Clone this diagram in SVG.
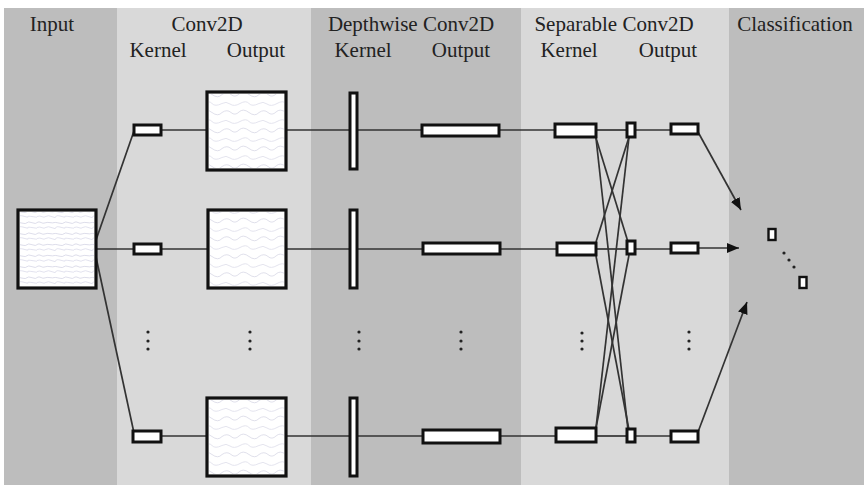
<svg xmlns="http://www.w3.org/2000/svg" width="864" height="485" viewBox="0 0 864 485">
  <defs>
    <style>
      .lbl { font-family: "Liberation Serif", "Times New Roman", serif; font-size: 21px; fill: #222; text-anchor: middle; }
      .dark { fill: #bdbdbd; }
      .light { fill: #d9d9d9; }
      .box { fill: #ffffff; stroke: #111; stroke-width: 3; }
      .sq { stroke-width: 3.2; }
      .wire { stroke: #333; stroke-width: 1.7; fill: none; }
      .dot { fill: #222; }
    </style>
    <!-- faint signal traces inside the input map -->
    <pattern id="eeg" width="37" height="11" patternUnits="userSpaceOnUse">
      <path d="M0 2.5 q2 -1.3 4 0 t4 0.4 t5 -0.3 t4 0 t5 0.5 t5 -0.4 t5 0 t5 0" fill="none" stroke="#c6c6dc" stroke-width="0.6"/>
      <path d="M0 7.5 q3 -1 5 0.2 t4 -0.3 t6 0.3 t4 0 t5 -0.4 t4 0.4 t5 0 t4 0" fill="none" stroke="#cfcfe2" stroke-width="0.6"/>
    </pattern>
    <!-- wavier traces inside the convolution outputs -->
    <pattern id="wave" width="37" height="18" patternUnits="userSpaceOnUse">
      <path d="M0 4.5 q5 -3.5 9 0 t8 -0.5 t10 0.5 t10 0" fill="none" stroke="#d2d2e2" stroke-width="0.7"/>
      <path d="M0 13.5 q4 -2.5 8 0.5 t10 -0.5 t9 0 t10 0" fill="none" stroke="#d8d8e6" stroke-width="0.7"/>
    </pattern>
    <marker id="arr" viewBox="0 0 12 10" refX="12" refY="5" markerWidth="12" markerHeight="10" markerUnits="userSpaceOnUse" orient="auto">
      <path d="M0 0 L12 5 L0 10 Z" fill="#111"/>
    </marker>
  </defs>

  <rect width="864" height="485" fill="#ffffff"/>

  <!-- column bands -->
  <g id="bands">
    <rect class="dark" x="4" y="8" width="113" height="477"/>
    <rect class="light" x="117" y="8" width="194" height="477"/>
    <rect class="dark" x="311" y="8" width="210" height="477"/>
    <rect class="light" x="521" y="8" width="208" height="477"/>
    <rect class="dark" x="729" y="8" width="135" height="477"/>
  </g>

  <!-- headings -->
  <g id="headings">
    <text class="lbl" x="52" y="31">Input</text>
    <text class="lbl" x="207" y="31">Conv2D</text>
    <text class="lbl" x="158" y="57">Kernel</text>
    <text class="lbl" x="256" y="57">Output</text>
    <text class="lbl" x="411" y="31">Depthwise Conv2D</text>
    <text class="lbl" x="363" y="57">Kernel</text>
    <text class="lbl" x="461" y="57">Output</text>
    <text class="lbl" x="614" y="31">Separable Conv2D</text>
    <text class="lbl" x="569" y="57">Kernel</text>
    <text class="lbl" x="668" y="57">Output</text>
    <text class="lbl" x="795" y="31">Classification</text>
  </g>

  <!-- connectors -->
  <g id="connectors">
    <!-- input fan-out -->
    <line class="wire" x1="96" y1="240" x2="134" y2="131"/>
    <line class="wire" x1="96" y1="249" x2="134" y2="249"/>
    <line class="wire" x1="96" y1="257" x2="134" y2="433"/>
    <!-- row 1 -->
    <polyline class="wire" points="161,130 207,130"/>
    <polyline class="wire" points="286,130 422,130"/>
    <polyline class="wire" points="500,130 555,130"/>
    <polyline class="wire" points="596,130 627,130"/>
    <polyline class="wire" points="636,130 671,130"/>
    <!-- row 2 -->
    <polyline class="wire" points="161,249 207,249"/>
    <polyline class="wire" points="286,249 422,249"/>
    <polyline class="wire" points="500,249 556,249"/>
    <polyline class="wire" points="596,249 627,249"/>
    <polyline class="wire" points="636,249 671,249"/>
    <!-- row n -->
    <polyline class="wire" points="161,436 207,436"/>
    <polyline class="wire" points="286,436 422,436"/>
    <polyline class="wire" points="500,436 555,436"/>
    <polyline class="wire" points="596,436 627,436"/>
    <polyline class="wire" points="636,436 671,436"/>
    <!-- pointwise mixing -->
    <line class="wire" x1="596" y1="138" x2="628" y2="242"/>
    <line class="wire" x1="596" y1="138" x2="628" y2="430"/>
    <line class="wire" x1="596" y1="242" x2="629" y2="137"/>
    <line class="wire" x1="596" y1="256" x2="629" y2="430"/>
    <line class="wire" x1="596" y1="428" x2="629" y2="137"/>
    <line class="wire" x1="596" y1="428" x2="629" y2="255"/>
    <!-- to classifier -->
    <line class="wire" x1="698" y1="132" x2="741" y2="210" marker-end="url(#arr)"/>
    <line class="wire" x1="698" y1="248" x2="739" y2="248" marker-end="url(#arr)"/>
    <line class="wire" x1="698" y1="432" x2="747" y2="302" marker-end="url(#arr)"/>
  </g>

  <g id="input">
    <rect class="box sq" x="18" y="210" width="78" height="78"/>
    <rect x="20" y="212" width="74" height="74" fill="url(#eeg)"/>
  </g>

  <g id="conv-kernel-1"><rect class="box" x="134" y="125" width="27" height="10"/></g>
  <g id="conv-kernel-2"><rect class="box" x="134" y="244" width="27" height="10"/></g>
  <g id="conv-kernel-n"><rect class="box" x="133" y="431" width="28" height="11"/></g>

  <g id="conv-output-1">
    <rect class="box sq" x="207" y="92" width="79" height="78"/>
    <rect x="209" y="94" width="75" height="74" fill="url(#wave)"/>
  </g>
  <g id="conv-output-2">
    <rect class="box sq" x="208" y="210" width="78" height="78"/>
    <rect x="210" y="212" width="74" height="74" fill="url(#wave)"/>
  </g>
  <g id="conv-output-n">
    <rect class="box sq" x="207" y="398" width="79" height="78"/>
    <rect x="209" y="400" width="75" height="74" fill="url(#wave)"/>
  </g>

  <g id="depthwise-kernel-1"><rect class="box" x="350" y="93" width="7" height="76"/></g>
  <g id="depthwise-kernel-2"><rect class="box" x="350" y="210" width="7" height="78"/></g>
  <g id="depthwise-kernel-n"><rect class="box" x="350" y="398" width="7" height="78"/></g>

  <g id="depthwise-output-1"><rect class="box" x="422" y="125" width="77" height="11"/></g>
  <g id="depthwise-output-2"><rect class="box" x="423" y="243" width="77" height="11"/></g>
  <g id="depthwise-output-n"><rect class="box" x="423" y="430" width="77" height="13"/></g>

  <g id="separable-kernel-1"><rect class="box" x="555" y="124" width="41" height="13"/></g>
  <g id="separable-kernel-2"><rect class="box" x="557" y="243" width="39" height="12"/></g>
  <g id="separable-kernel-n"><rect class="box" x="556" y="428" width="40" height="14"/></g>

  <g id="pointwise-1"><rect class="box" x="627" y="123" width="8" height="14"/></g>
  <g id="pointwise-2"><rect class="box" x="627" y="241" width="8" height="13"/></g>
  <g id="pointwise-n"><rect class="box" x="627" y="429" width="8" height="13"/></g>

  <g id="separable-output-1"><rect class="box" x="671" y="124" width="27" height="10"/></g>
  <g id="separable-output-2"><rect class="box" x="671" y="243" width="27" height="10"/></g>
  <g id="separable-output-n"><rect class="box" x="671" y="431" width="27" height="11"/></g>

  <g id="class-1"><rect class="box" x="768.5" y="229" width="7" height="11" style="stroke-width:2.4"/></g>
  <g id="class-n"><rect class="box" x="799.5" y="277" width="7" height="11" style="stroke-width:2.4"/></g>

  <!-- ellipsis marks -->
  <g id="ellipses">
    <circle class="dot" cx="148" cy="332" r="1.6"/><circle class="dot" cx="148" cy="341" r="1.6"/><circle class="dot" cx="148" cy="349" r="1.6"/>
    <circle class="dot" cx="250" cy="332" r="1.6"/><circle class="dot" cx="250" cy="341" r="1.6"/><circle class="dot" cx="250" cy="349" r="1.6"/>
    <circle class="dot" cx="359" cy="332" r="1.6"/><circle class="dot" cx="359" cy="341" r="1.6"/><circle class="dot" cx="359" cy="349" r="1.6"/>
    <circle class="dot" cx="461" cy="332" r="1.6"/><circle class="dot" cx="461" cy="341" r="1.6"/><circle class="dot" cx="461" cy="349" r="1.6"/>
    <circle class="dot" cx="582" cy="333" r="1.6"/><circle class="dot" cx="582" cy="341" r="1.6"/><circle class="dot" cx="582" cy="349" r="1.6"/>
    <circle class="dot" cx="689" cy="332" r="1.6"/><circle class="dot" cx="689" cy="341" r="1.6"/><circle class="dot" cx="689" cy="349" r="1.6"/>
    <circle class="dot" cx="784" cy="253" r="1.6"/><circle class="dot" cx="789" cy="260" r="1.6"/><circle class="dot" cx="794" cy="267" r="1.6"/>
  </g>
</svg>
